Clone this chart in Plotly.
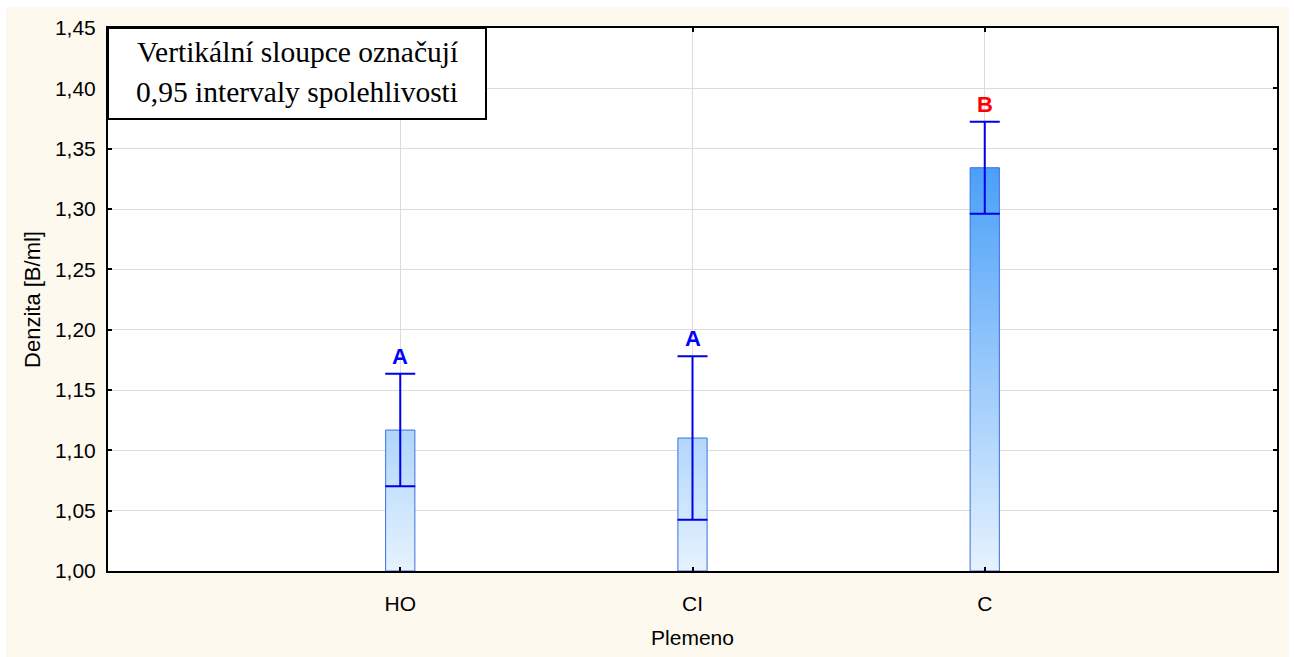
import plotly.graph_objects as go

# ---- data ----
categories = ["HO", "CI", "C"]
means = [1.1168, 1.1102, 1.3342]
ci_half = [0.0466, 0.0678, 0.0381]
group_letters = ["A", "A", "B"]
letter_colors = ["#0000FF", "#0000FF", "#FF0000"]
y_tick_vals = [1.00, 1.05, 1.10, 1.15, 1.20, 1.25, 1.30, 1.35, 1.40, 1.45]
legend_lines = ["Vertikální sloupce označují", "0,95 intervaly spolehlivosti"]
x_title = "Plemeno"
y_title = "Denzita [B/ml]"

y_min, y_max = 1.00, 1.45
bar_half_width = 0.05
positions = list(range(len(categories)))

fig = go.Figure()

# gradient-filled bars
for p, m in zip(positions, means):
    fig.add_trace(go.Scatter(
        x=[p - bar_half_width, p - bar_half_width, p + bar_half_width, p + bar_half_width, p - bar_half_width],
        y=[y_min, m, m, y_min, y_min],
        mode="lines",
        fill="toself",
        line=dict(color="#3B6FE0", width=1),
        fillgradient=dict(type="vertical",
                          colorscale=[[0, "#E6F2FE"], [1, "#4AA0F8"]],
                          start=y_min, stop=max(means)),
        hoverinfo="skip",
        showlegend=False,
    ))

# confidence intervals
fig.add_trace(go.Scatter(
    x=positions, y=means, mode="markers",
    marker=dict(size=1, color="rgba(0,0,0,0)"),
    error_y=dict(type="data", array=ci_half, visible=True,
                 color="#0000E6", thickness=2, width=15),
    showlegend=False,
))

# group letters
for p, m, h, t, c in zip(positions, means, ci_half, group_letters, letter_colors):
    fig.add_annotation(x=p, y=m + h, text=f"<b>{t}</b>", showarrow=False,
                       yanchor="bottom", yshift=3,
                       font=dict(family="Liberation Sans, Arial", size=22, color=c))

W, H = 1294, 657
ml, mr, mt, mb = 108, 17, 28, 86
pw, ph = W - ml - mr, H - mt - mb

def px_x(px):
    return (px - ml) / pw

def px_y(py):
    return (H - mb - py) / ph

# background: cream page with thin white edge, white plot area
fig.add_shape(type="rect", xref="paper", yref="paper", layer="below",
              x0=px_x(6), x1=px_x(1289), y0=px_y(657), y1=px_y(7),
              fillcolor="#FDF9EF", line=dict(width=0))
fig.add_shape(type="rect", xref="paper", yref="paper", layer="below",
              x0=0, x1=1, y0=0, y1=1,
              fillcolor="white", line=dict(width=0))

# legend box
fig.add_shape(type="rect", xref="paper", yref="paper", layer="above",
              x0=0, x1=px_x(486), y0=px_y(119), y1=1,
              fillcolor="white", line=dict(color="black", width=2))
for line_text, cy in zip(legend_lines, [52, 92]):
    fig.add_annotation(xref="paper", yref="paper", x=px_x(297), y=px_y(cy),
                       text=line_text, showarrow=False,
                       xanchor="center", yanchor="middle", align="center",
                       font=dict(family="Liberation Serif, Times New Roman", size=29.5, color="black"))

fig.update_layout(
    width=W, height=H,
    margin=dict(l=ml, r=mr, t=mt, b=mb, pad=0),
    paper_bgcolor="white",
    plot_bgcolor="rgba(0,0,0,0)",
    separators=", ",
    font=dict(family="Liberation Sans, Arial", size=21, color="black"),
    showlegend=False,
)

fig.update_xaxes(
    range=[-1, 3], tickmode="array", tickvals=positions, ticktext=categories,
    showgrid=True, gridcolor="#DCDCDC", gridwidth=1, zeroline=False,
    showline=True, linecolor="black", linewidth=2, mirror="ticks",
    ticks="inside", ticklen=4, tickcolor="black", tickwidth=2,
    ticklabelstandoff=13,
    tickfont=dict(size=21),
    title=dict(text=x_title, font=dict(size=21), standoff=16),
)
fig.update_yaxes(
    range=[y_min, y_max], tickmode="array", tickvals=y_tick_vals,
    tickformat=".2f",
    showgrid=True, gridcolor="#DCDCDC", gridwidth=1, zeroline=False,
    showline=True, linecolor="black", linewidth=2, mirror="ticks",
    ticks="inside", ticklen=4, tickcolor="black", tickwidth=2,
    ticklabelstandoff=6,
    tickfont=dict(size=21),
    title=dict(text=y_title, font=dict(size=22), standoff=8),
)

fig.write_html("out.html")
